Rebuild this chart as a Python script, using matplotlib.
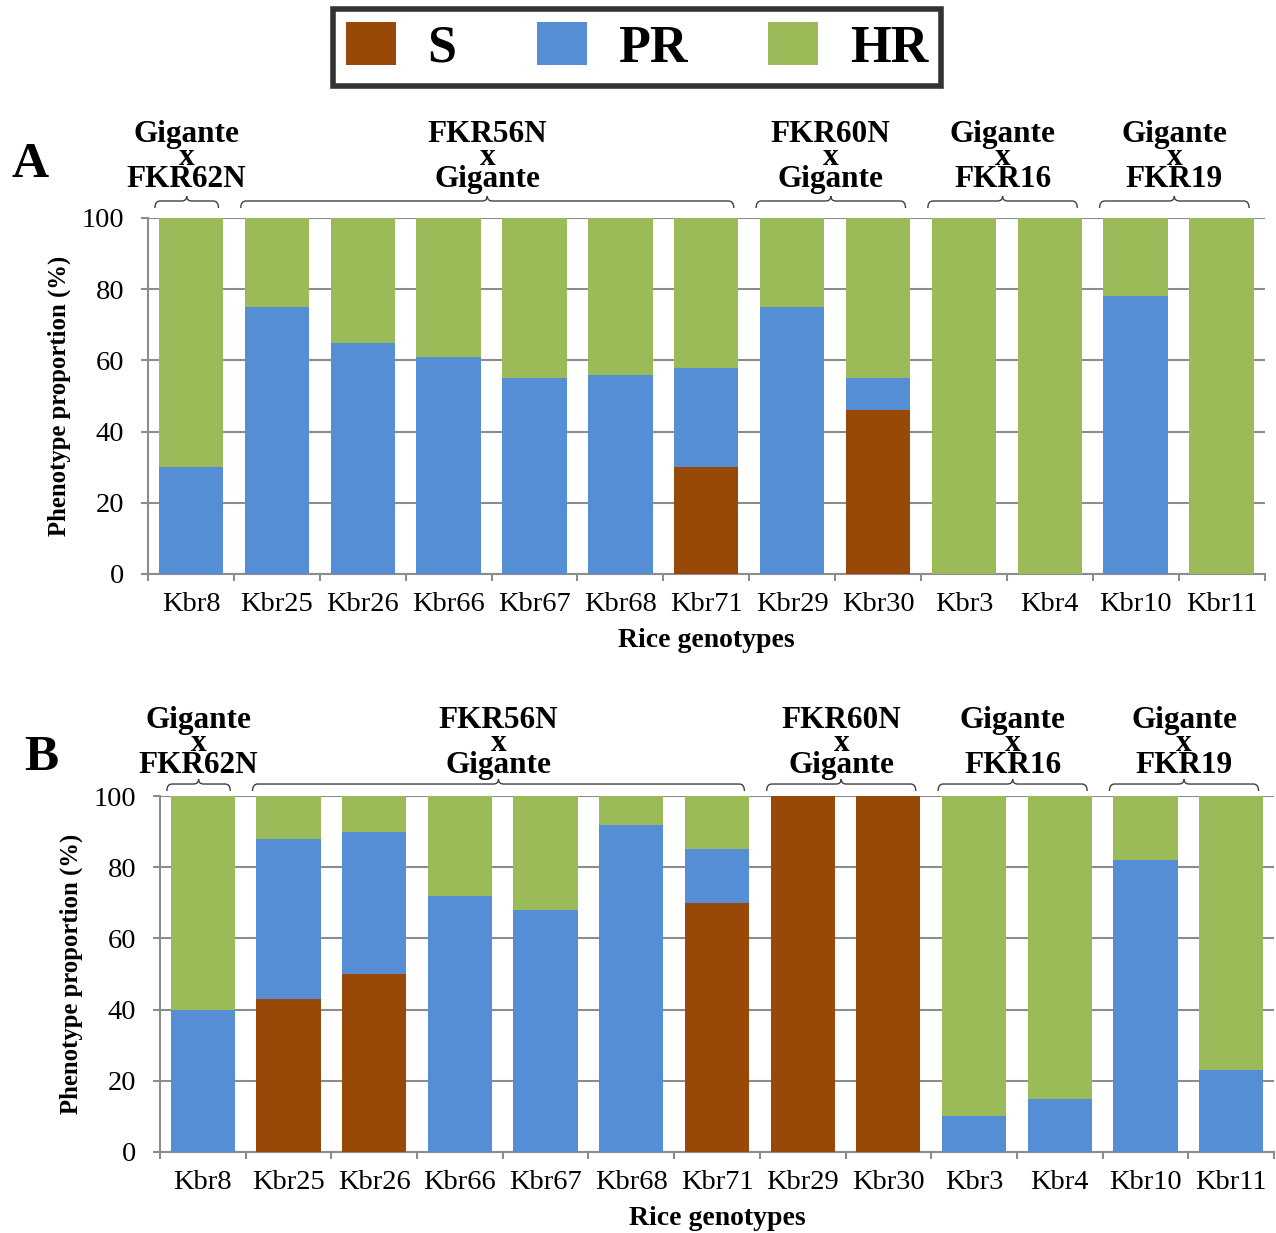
import matplotlib
matplotlib.use('Agg')
import matplotlib.pyplot as plt
import matplotlib.transforms as mtransforms
from matplotlib.path import Path
from matplotlib.patches import Patch, PathPatch
import numpy as np

plt.rcParams['font.family'] = ['Liberation Serif', 'DejaVu Serif']

genotypes = ['Kbr8', 'Kbr25', 'Kbr26', 'Kbr66', 'Kbr67', 'Kbr68', 'Kbr71',
             'Kbr29', 'Kbr30', 'Kbr3', 'Kbr4', 'Kbr10', 'Kbr11']

# panel A (%)
s_a = [0, 0, 0, 0, 0, 0, 30, 0, 46, 0, 0, 0, 0]
pr_a = [30, 75, 65, 61, 55, 56, 28, 75, 9, 0, 0, 78, 0]
hr_a = [70, 25, 35, 39, 45, 44, 42, 25, 45, 100, 100, 22, 100]

# panel B (%)
s_b = [0, 43, 50, 0, 0, 0, 70, 100, 100, 0, 0, 0, 0]
pr_b = [40, 45, 40, 72, 68, 92, 15, 0, 0, 10, 15, 82, 23]
hr_b = [60, 12, 10, 28, 32, 8, 15, 0, 0, 90, 85, 18, 77]

# crosses: (label, first genotype index, last genotype index)
crosses = [('Gigante\nx\nFKR62N', 0, 0),
           ('FKR56N\nx\nGigante', 1, 6),
           ('FKR60N\nx\nGigante', 7, 8),
           ('Gigante\nx\nFKR16', 9, 10),
           ('Gigante\nx\nFKR19', 11, 12)]

colors = {'S': '#984807', 'PR': '#558ED5', 'HR': '#9BBB59'}
grid_col = '#8c8c8c'


def brace(ax, x0, x1, y_line, y_end, y_peak):
    tr = mtransforms.blended_transform_factory(ax.transData, ax.transAxes)
    c = (x0 + x1) / 2
    r = 0.06
    verts = [(x0, y_end), (x0, y_line), (x0 + r, y_line),
             (c - r, y_line), (c, y_line), (c, y_peak),
             (c, y_line), (c + r, y_line),
             (x1 - r, y_line), (x1, y_line), (x1, y_end)]
    codes = [Path.MOVETO, Path.CURVE3, Path.CURVE3,
             Path.LINETO, Path.CURVE3, Path.CURVE3,
             Path.CURVE3, Path.CURVE3,
             Path.LINETO, Path.CURVE3, Path.CURVE3]
    p = PathPatch(Path(verts, codes), fill=False, lw=1.0, color='#404040',
                  transform=tr, clip_on=False)
    ax.add_patch(p)


def draw_panel(ax, s, pr, hr, brace_px, label_px):
    x = np.arange(len(genotypes))
    s = np.array(s)
    pr = np.array(pr)
    hr = np.array(hr)
    w = 0.75
    ax.bar(x, s, w, color=colors['S'], zorder=3)
    ax.bar(x, pr, w, bottom=s, color=colors['PR'], zorder=3)
    ax.bar(x, hr, w, bottom=s + pr, color=colors['HR'], zorder=3)

    ax.set_xlim(-0.5, len(genotypes) - 0.5)
    ax.set_ylim(0, 100)
    ax.set_yticks([0, 20, 40, 60, 80, 100])
    ax.yaxis.grid(True, color=grid_col, lw=1.5, zorder=0)
    ax.set_axisbelow(True)
    for side in ['top', 'right']:
        ax.spines[side].set_visible(False)
    for side in ['left', 'bottom']:
        ax.spines[side].set_color(grid_col)
        ax.spines[side].set_linewidth(1.5)

    ax.set_xticks(x)
    ax.set_xticklabels(genotypes, fontsize=20.5)
    ax.set_xticks(np.arange(-0.5, len(genotypes)), minor=True)
    ax.tick_params(axis='x', which='major', length=0, pad=13)
    ax.tick_params(axis='x', which='minor', length=5, width=1.5, color=grid_col)
    ax.tick_params(axis='y', length=5, width=1.5, color=grid_col, labelsize=20.5, pad=12)

    ax.set_xlabel('Rice genotypes', fontsize=20, fontweight='bold', labelpad=8)
    ax.set_ylabel('Phenotype proportion (%)', fontsize=17.8, fontweight='bold', labelpad=8)

    h = 356.0
    tr = mtransforms.blended_transform_factory(ax.transData, ax.transAxes)
    y_line, y_end, y_peak = [1 + v / h for v in brace_px]
    for label, i0, i1 in crosses:
        brace(ax, i0 - 0.42, i1 + 0.32, y_line, y_end, y_peak)
        cx = (i0 - 0.42 + i1 + 0.32) / 2
        ax.text(cx, 1 + label_px / h, label, transform=tr, ha='center', va='bottom',
                multialignment='center', linespacing=0.7,
                fontsize=22.5, fontweight='bold', clip_on=False)


fig = plt.figure(figsize=(12.76, 12.33), dpi=100)
ax_a = fig.add_axes([0.116, 0.5345, 0.875, 0.2887])
ax_b = fig.add_axes([0.1254, 0.0657, 0.873, 0.2887])

draw_panel(ax_a, s_a, pr_a, hr_a, (17, 10, 22), 24)
draw_panel(ax_b, s_b, pr_b, hr_b, (12, 5, 17), 16)

fig.text(12 / 1276, 1 - 177 / 1233, 'A', fontsize=37, fontweight='bold', va='baseline')
fig.text(24 / 1276, 1 - 770 / 1233, 'B', fontsize=37, fontweight='bold', va='baseline')

handles = [Patch(facecolor=colors[k], edgecolor='none', label=k) for k in ['S', 'PR', 'HR']]
leg = fig.legend(handles=handles, loc='center', bbox_to_anchor=(637 / 1276, 1 - 47.5 / 1233),
                 ncol=3, prop={'weight': 'bold', 'size': 37.5},
                 frameon=True, fancybox=False, edgecolor='black',
                 handlelength=0.96, handleheight=0.9, handletextpad=0.6,
                 columnspacing=1.55, borderpad=0.25, borderaxespad=0)
leg.get_frame().set_linewidth(4)

plt.savefig('out.png', dpi=100)
